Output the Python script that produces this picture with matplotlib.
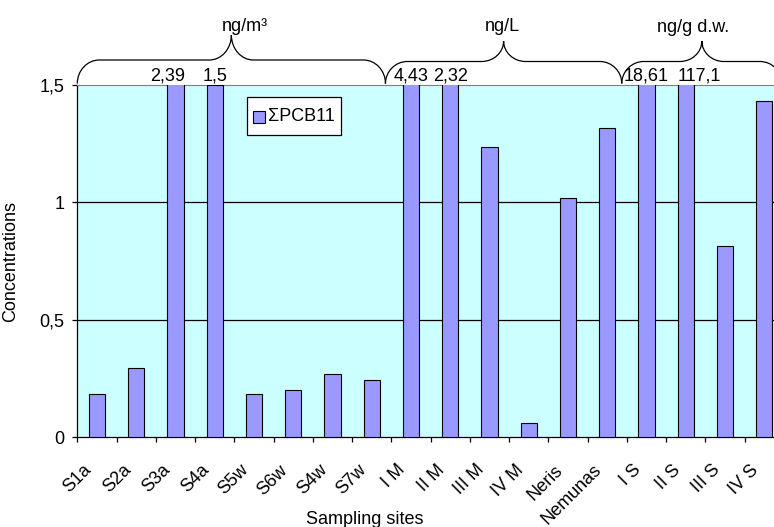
import numpy as np
import matplotlib
matplotlib.use("Agg")
import matplotlib.pyplot as plt
from matplotlib.path import Path
from matplotlib.patches import PathPatch, Rectangle
import matplotlib.transforms as mtransforms

# --- data ---
sites = ['S1a', 'S2a', 'S3a', 'S4a', 'S5w', 'S6w', 'S4w', 'S7w',
         'I M', 'II M', 'III M', 'IV M', 'Neris', 'Nemunas',
         'I S', 'II S', 'III S', 'IV S']
pcb11 = [0.182, 0.295, 2.39, 1.5, 0.184, 0.201, 0.268, 0.244,
         4.43, 2.32, 1.235, 0.060, 1.017, 1.315,
         18.61, 117.1, 0.815, 1.430]
units = ['ng/m\u00b3', 'ng/L', 'ng/g d.w.']
series_name = '\u03a3PCB11'
y_max = 1.5
y_ticks = [0, 0.5, 1, 1.5]

# --- layout (pixels of the 774x527 canvas) ---
W, H = 774, 527
AX_L, AX_R, AX_T, AX_B = 77.3, 783.9, 85.0, 437.0
brace_edges = [-0.5, 7.35, 13.37, 17.45]      # category units
brace_mid_px = [60, 61.5, 61.5]
brace_peak_px = [35, 41, 41]
unit_text_x = [3.77, 10.32, 15.19]
unit_text_px = [31, 31, 32]
label_nudge_px = {'S3a': -8, 'II S': 14}
legend_box_px = (247, 97.3, 340.7, 135.0)     # left, top, right, bottom

FONT = 'Liberation Sans'
FS = 13
BAR_COLOR = '#9999FF'
plt.rcParams['font.family'] = [FONT, 'DejaVu Sans']


def comma(v):
    return f"{v:g}".replace('.', ',')


def px_x(px):
    # pixel column -> axes fraction
    return (px - AX_L) / (AX_R - AX_L)


def py(px):
    # pixel row -> axes fraction
    return (AX_B - px) / (AX_B - AX_T)


def brace(ax, x0, x1, y_mid, y_peak, rx, y_base=1.004):
    k = 0.5523
    xm = (x0 + x1) / 2
    verts = [
        (x0, y_base),
        (x0, y_base + k * (y_mid - y_base)), (x0 + (1 - k) * rx, y_mid), (x0 + rx, y_mid),
        (xm - rx, y_mid),
        (xm - (1 - k) * rx, y_mid), (xm, y_peak - k * (y_peak - y_mid)), (xm, y_peak),
        (xm, y_peak - k * (y_peak - y_mid)), (xm + (1 - k) * rx, y_mid), (xm + rx, y_mid),
        (x1 - rx, y_mid),
        (x1 - (1 - k) * rx, y_mid), (x1, y_base + k * (y_mid - y_base)), (x1, y_base),
    ]
    codes = ([Path.MOVETO] + [Path.CURVE4] * 3 + [Path.LINETO] + [Path.CURVE4] * 6
             + [Path.LINETO] + [Path.CURVE4] * 3)
    patch = PathPatch(Path(verts, codes), fill=False, edgecolor='black', lw=0.9,
                      transform=ax.get_xaxis_transform(), clip_on=False)
    ax.add_patch(patch)


fig = plt.figure(figsize=(W / 100, H / 100), dpi=100)
ax = fig.add_axes([AX_L / W, 1 - AX_B / H, (AX_R - AX_L) / W, (AX_B - AX_T) / H])
ax.set_facecolor('#CCFFFF')

x = np.arange(len(sites))
ax.bar(x, pcb11, width=0.415, color=BAR_COLOR, edgecolor='black', linewidth=0.8, zorder=3)

ax.set_xlim(-0.5, len(sites) - 0.5)
ax.set_ylim(0, y_max)

# gridlines
for yv in y_ticks[1:-1]:
    ax.axhline(yv, color='black', lw=0.9, zorder=1)

ax.spines['top'].set_color('#808080')
ax.spines['right'].set_color('#808080')
ax.spines['left'].set_linewidth(0.9)
ax.spines['bottom'].set_linewidth(0.9)

ax.set_yticks(y_ticks)
ax.set_yticklabels([comma(v) for v in y_ticks], fontsize=FS)
ax.tick_params(axis='y', length=5 * 0.72, width=0.9, pad=5.5)

# ticks between categories, labels at the centres
ax.set_xticks(np.arange(-0.5, len(sites), 1.0))
ax.set_xticklabels([])
ax.tick_params(axis='x', which='major', length=5 * 0.72, width=0.9)
ax.set_xticks(x, minor=True)
ax.set_xticklabels(sites, minor=True, fontsize=FS, rotation=45, ha='right',
                   va='center', rotation_mode='anchor')
ax.tick_params(axis='x', which='minor', length=0, pad=22)
shift = mtransforms.ScaledTranslation(-8 / 100, 0, fig.dpi_scale_trans)
for lbl in ax.get_xticklabels(minor=True):
    lbl.set_transform(lbl.get_transform() + shift)

ax.set_ylabel('Concentrations', fontsize=FS)
ax.yaxis.set_label_coords(-(AX_L - 19) / (AX_R - AX_L), 0.5)
fig.text(364.5 / W, 1 - 524 / H, 'Sampling sites', fontsize=FS, ha='center', va='baseline')

# values of bars that run off the top
for i, (s, v) in enumerate(zip(sites, pcb11)):
    if v >= y_max:
        ax.annotate(comma(v), xy=(i, py(80.5)), xycoords=ax.get_xaxis_transform(),
                    xytext=(label_nudge_px.get(s, 0) * 0.72, 0), textcoords='offset points',
                    ha='center', va='baseline', fontsize=FS, annotation_clip=False)

# unit braces over the groups
rx = 22 / ((AX_R - AX_L) / len(sites))
for j, u in enumerate(units):
    brace(ax, brace_edges[j], brace_edges[j + 1], py(brace_mid_px[j]), py(brace_peak_px[j]), rx)
    ax.text(unit_text_x[j], py(unit_text_px[j]), u, transform=ax.get_xaxis_transform(),
            ha='center', va='baseline', fontsize=FS, clip_on=False)

# legend box, drawn like the spreadsheet one
l, t, r, b = legend_box_px
ax.add_patch(Rectangle((px_x(l), py(b)), px_x(r) - px_x(l), py(t) - py(b),
                       transform=ax.transAxes, facecolor='white', edgecolor='black',
                       lw=0.9, zorder=5))
ax.add_patch(Rectangle((px_x(l + 5.5), py(b - 12)), px_x(l + 17.5) - px_x(l + 5.5),
                       py(b - 24) - py(b - 12), transform=ax.transAxes,
                       facecolor=BAR_COLOR, edgecolor='black', lw=0.8, zorder=6))
ax.text(px_x(l + 21), py((t + b) / 2), series_name, transform=ax.transAxes,
        ha='left', va='center', fontsize=FS, zorder=7)

fig.savefig('out.png', dpi=100)
